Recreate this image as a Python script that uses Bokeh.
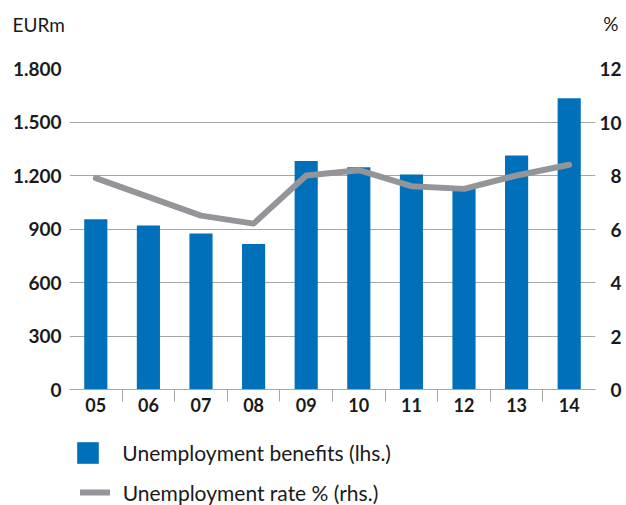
from bokeh.plotting import figure
from bokeh.layouts import column
from bokeh.models import (Range1d, LinearAxis, FixedTicker, Legend, LegendItem, Label)
from bokeh.embed import file_html
from bokeh.resources import INLINE

years = ["05", "06", "07", "08", "09", "10", "11", "12", "13", "14"]
benefits = [954, 920, 875, 816, 1282, 1246, 1205, 1135, 1312, 1633]
rate = [7.9, 7.2, 6.5, 6.2, 8.0, 8.2, 7.6, 7.5, 8.0, 8.4]
left_ticks = [0, 300, 600, 900, 1200, 1500, 1800]
left_labels = ["0", "300", "600", "900", "1.200", "1.500", "1.800"]
right_ticks = [0, 2, 4, 6, 8, 10, 12]
right_labels = ["\u20070", "\u20072", "\u20074", "\u20076", "\u20078", "10", "12"]
series_names = ["Unemployment benefits (lhs.)", "Unemployment rate % (rhs.)"]

BLUE = "#0070BA"
GRAY = "#939598"
GRID = "#A6A6A6"
TXT = "#1a1a1a"
FONT = "Lato"

xs = list(range(1, len(years) + 1))

p = figure(width=626, height=430, output_backend="svg", toolbar_location=None,
           x_range=Range1d(0.5, len(years) + 0.5), y_range=Range1d(0, 1800),
           min_border_left=69, min_border_right=31, min_border_top=68, min_border_bottom=41)
p.outline_line_color = None
p.background_fill_color = "white"
p.extra_y_ranges = {"pct": Range1d(0, 12)}

bars = p.vbar(x=xs, top=benefits, width=0.44, color=BLUE, line_color=None)
line = p.line(x=xs, y=rate, y_range_name="pct", line_color=GRAY, line_width=6,
              line_join="round", line_cap="round")

# axes
p.xaxis.ticker = FixedTicker(ticks=xs, minor_ticks=[x + 0.5 for x in xs[:-1]])
p.xaxis.major_label_overrides = {x: y for x, y in zip(xs, years)}
p.xaxis.major_tick_line_color = None
p.xaxis.major_tick_out = 0
p.xaxis.major_tick_in = 0
p.xaxis.minor_tick_line_color = GRID
p.xaxis.minor_tick_out = 12
p.xaxis.minor_tick_in = 0
p.xaxis.axis_line_color = GRID
p.xaxis.major_label_standoff = -4
p.xaxis.major_label_text_font = FONT
p.xaxis.major_label_text_font_style = "bold"
p.xaxis.major_label_text_font_size = "18px"
p.xaxis.major_label_text_color = TXT

p.yaxis.ticker = FixedTicker(ticks=left_ticks)
p.yaxis.major_label_overrides = {t: l for t, l in zip(left_ticks, left_labels)}
p.yaxis.axis_line_color = None
p.yaxis.major_tick_line_color = None
p.yaxis.minor_tick_line_color = None
p.yaxis.major_tick_out = 0
p.yaxis.major_tick_in = 0
p.yaxis.major_label_standoff = 8
p.yaxis.major_label_text_font = FONT
p.yaxis.major_label_text_font_style = "bold"
p.yaxis.major_label_text_font_size = "19px"
p.yaxis.major_label_text_color = TXT

ra = LinearAxis(y_range_name="pct", ticker=FixedTicker(ticks=right_ticks),
                major_label_overrides={t: l for t, l in zip(right_ticks, right_labels)},
                axis_line_color=None, major_tick_line_color=None, minor_tick_line_color=None,
                major_tick_out=0, major_tick_in=0, major_label_standoff=4,
                major_label_text_font=FONT, major_label_text_font_style="bold",
                major_label_text_font_size="19px", major_label_text_color=TXT)
p.add_layout(ra, "right")

p.xgrid.grid_line_color = None
p.ygrid.ticker = FixedTicker(ticks=left_ticks)
p.ygrid.grid_line_color = GRID
p.ygrid.grid_line_width = 1

# unit labels (in the top border)
p.add_layout(Label(x=-57, y=44.5, x_units="screen", y_units="screen", text="EURm",
                   text_font=FONT, text_font_size="19px", text_color=TXT,
                   text_baseline="middle", text_align="left"), "above")
p.add_layout(Label(x=549, y=22.5, x_units="screen", y_units="screen", text="%",
                   text_font=FONT, text_font_size="19px", text_color=TXT,
                   text_baseline="middle", text_align="right"), "above")

# legend strip below the chart (its renderers carry the same data, kept below the view)
lg = figure(width=626, height=75, output_backend="svg", toolbar_location=None,
            x_range=Range1d(0.5, len(years) + 0.5), y_range=Range1d(3000, 3001),
            x_axis_location=None, y_axis_location=None, min_border=0)
lg.outline_line_color = None
lg.grid.visible = False
lb = lg.vbar(x=xs, top=benefits, width=0.0, color=BLUE, line_color=None)
ll = lg.line(x=xs, y=rate, line_color=GRAY, line_width=6, line_join="round", line_cap="round")

common = dict(border_line_color=None, background_fill_alpha=0, padding=0, margin=0,
              label_text_font=FONT, label_text_font_size="21px", label_text_color=TXT,
              spacing=0)
leg1 = Legend(items=[LegendItem(label=series_names[0], renderers=[lb])],
              location=(5.3, 39.5), glyph_width=27, glyph_height=27, label_height=27,
              label_standoff=21, **common)
leg2 = Legend(items=[LegendItem(label=series_names[1], renderers=[ll])],
              location=(10.7, 0.5), glyph_width=30, glyph_height=18, label_height=18,
              label_standoff=13, **common)
lg.add_layout(leg1, "center")
lg.add_layout(leg2, "center")

layout = column(p, lg, spacing=0)
open("out.html", "w").write(file_html(layout, INLINE))
